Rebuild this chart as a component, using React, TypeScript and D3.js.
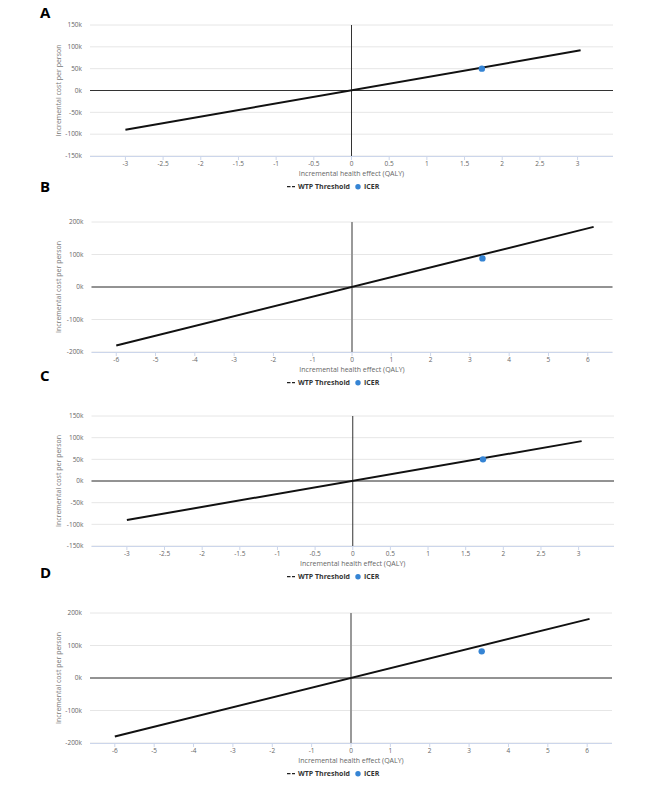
import React from "react";
import * as d3 from "d3";

// ---- data ----
const panelNames = ["A", "B", "C", "D"];
const xDomains = [[-3.47, 3.47], [-6.63, 6.63], [-3.47, 3.47], [-6.63, 6.63]];
const yDomains = [[-150000, 150000], [-200000, 200000], [-150000, 150000], [-200000, 200000]];
const xTicksSmall = [-3, -2.5, -2, -1.5, -1, -0.5, 0, 0.5, 1, 1.5, 2, 2.5, 3];
const xTicksLarge = [-6, -5, -4, -3, -2, -1, 0, 1, 2, 3, 4, 5, 6];
const yTicksSmall = [-150000, -100000, -50000, 0, 50000, 100000, 150000];
const yTicksLarge = [-200000, -100000, 0, 100000, 200000];
const panelXTicks = [xTicksSmall, xTicksLarge, xTicksSmall, xTicksLarge];
const panelYTicks = [yTicksSmall, yTicksLarge, yTicksSmall, yTicksLarge];
const wtpX = [[-3, 3.04], [-6, 6.15], [-3, 3.04], [-6, 6.06]];
const wtpY = [[-90000, 92000], [-180000, 185000], [-90000, 92000], [-180000, 182000]];
const icerX = [1.73, 3.32, 1.73, 3.32];
const icerY = [50000, 88000, 50000, 82000];
const xTitle = "Incremental health effect (QALY)";
const yTitle = "Incremental cost per person";
const legendLabels = ["WTP Threshold", "ICER"];

// ---- layout (positions only) ----
const layouts = [
  { top: 25, bottom: 156, left: 90, right: 613, labelY: 18, zeroDark: true },
  { top: 222, bottom: 352, left: 91.5, right: 612.5, labelY: 192, zeroDark: false },
  { top: 416, bottom: 546, left: 91.5, right: 614, labelY: 381, zeroDark: true },
  { top: 613, bottom: 743, left: 90, right: 612, labelY: 578, zeroDark: false },
];

const FONT = "'Open Sans', 'Liberation Sans', Arial, sans-serif";

function Panel({ i }: { i: number }) {
  const L = layouts[i];
  const x = d3.scaleLinear().domain(xDomains[i]).range([L.left, L.right]);
  const y = d3.scaleLinear().domain(yDomains[i]).range([L.bottom, L.top]);
  const line = d3
    .line<[number, number]>()
    .x((d) => x(d[0]))
    .y((d) => y(d[1]));
  const wtpPts: [number, number][] = wtpX[i].map((v, k) => [v, wtpY[i][k]]);
  const fmtY = (v: number) => `${v / 1000}k`;
  const midY = (L.top + L.bottom) / 2;
  const cx = x(0);
  return (
    <g>
      <text x={40} y={L.labelY} fontFamily={FONT} fontWeight="bold" fontSize={15} fill="#000">
        {panelNames[i]}
      </text>
      {/* grid */}
      {panelYTicks[i].map((t) => (
        <line key={"g" + t} x1={L.left} x2={L.right} y1={y(t)} y2={y(t)} stroke="#e6e6e6" strokeWidth={1} />
      ))}
      {/* y labels */}
      {panelYTicks[i].map((t) => (
        <text key={"yl" + t} x={L.left - 8} y={y(t) + 2.3} textAnchor="end" fontFamily={FONT} fontSize={6.5} fill="#666">
          {fmtY(t)}
        </text>
      ))}
      {/* x axis line */}
      <line x1={L.left} x2={L.right} y1={L.bottom + 0.5} y2={L.bottom + 0.5} stroke="#ccd6eb" strokeWidth={1} />
      {panelXTicks[i].map((t) => (
        <g key={"xt" + t}>
          <line x1={x(t)} x2={x(t)} y1={L.bottom} y2={L.bottom + 4} stroke="#ccd6eb" strokeWidth={1} />
          <text x={x(t)} y={L.bottom + 9.5} textAnchor="middle" fontFamily={FONT} fontSize={6.5} fill="#666">
            {String(t)}
          </text>
        </g>
      ))}
      {/* axis titles */}
      <text x={x(0)} y={L.bottom + 19.5} textAnchor="middle" fontFamily={FONT} fontSize={7} fill="#666">
        {xTitle}
      </text>
      <text
        transform={`translate(${60.5},${midY}) rotate(-90)`}
        textAnchor="middle"
        fontFamily={FONT}
        fontSize={7}
        fill="#777"
      >
        {yTitle}
      </text>
      {/* zero lines */}
      <line x1={L.left} x2={L.right} y1={y(0)} y2={y(0)} stroke="#333" strokeWidth={1} />
      <line
        x1={cx}
        x2={cx}
        y1={L.top}
        y2={L.bottom}
        stroke={L.zeroDark ? "#333" : "#999"}
        strokeWidth={L.zeroDark ? 1 : 2}
      />
      {/* WTP line */}
      <path d={line(wtpPts) || ""} fill="none" stroke="#111" strokeWidth={2} />
      {/* ICER */}
      <circle cx={x(icerX[i])} cy={y(icerY[i])} r={3.2} fill="#3584d4" />
      {/* legend */}
      <g transform={`translate(0,${L.bottom + 33})`}>
        <line x1={287} x2={295} y1={-2.3} y2={-2.3} stroke="#222" strokeWidth={1.3} strokeDasharray="3.5,1.5" />
        <text x={298} y={0} fontFamily={FONT} fontWeight="bold" fontSize={7} fill="#333">
          {legendLabels[0]}
        </text>
        <circle cx={358} cy={-2.3} r={2.7} fill="#3584d4" />
        <text x={364} y={0} fontFamily={FONT} fontWeight="bold" fontSize={7} fill="#333">
          {legendLabels[1]}
        </text>
      </g>
    </g>
  );
}

export default function App() {
  return (
    <div style={{ position: "absolute", left: 0, top: 0 }}>
      <svg width={666} height={799} style={{ display: "block", background: "#fff" }}>
        <rect width={666} height={799} fill="#fff" />
        {panelNames.map((_, i) => (
          <Panel key={i} i={i} />
        ))}
      </svg>
    </div>
  );
}
